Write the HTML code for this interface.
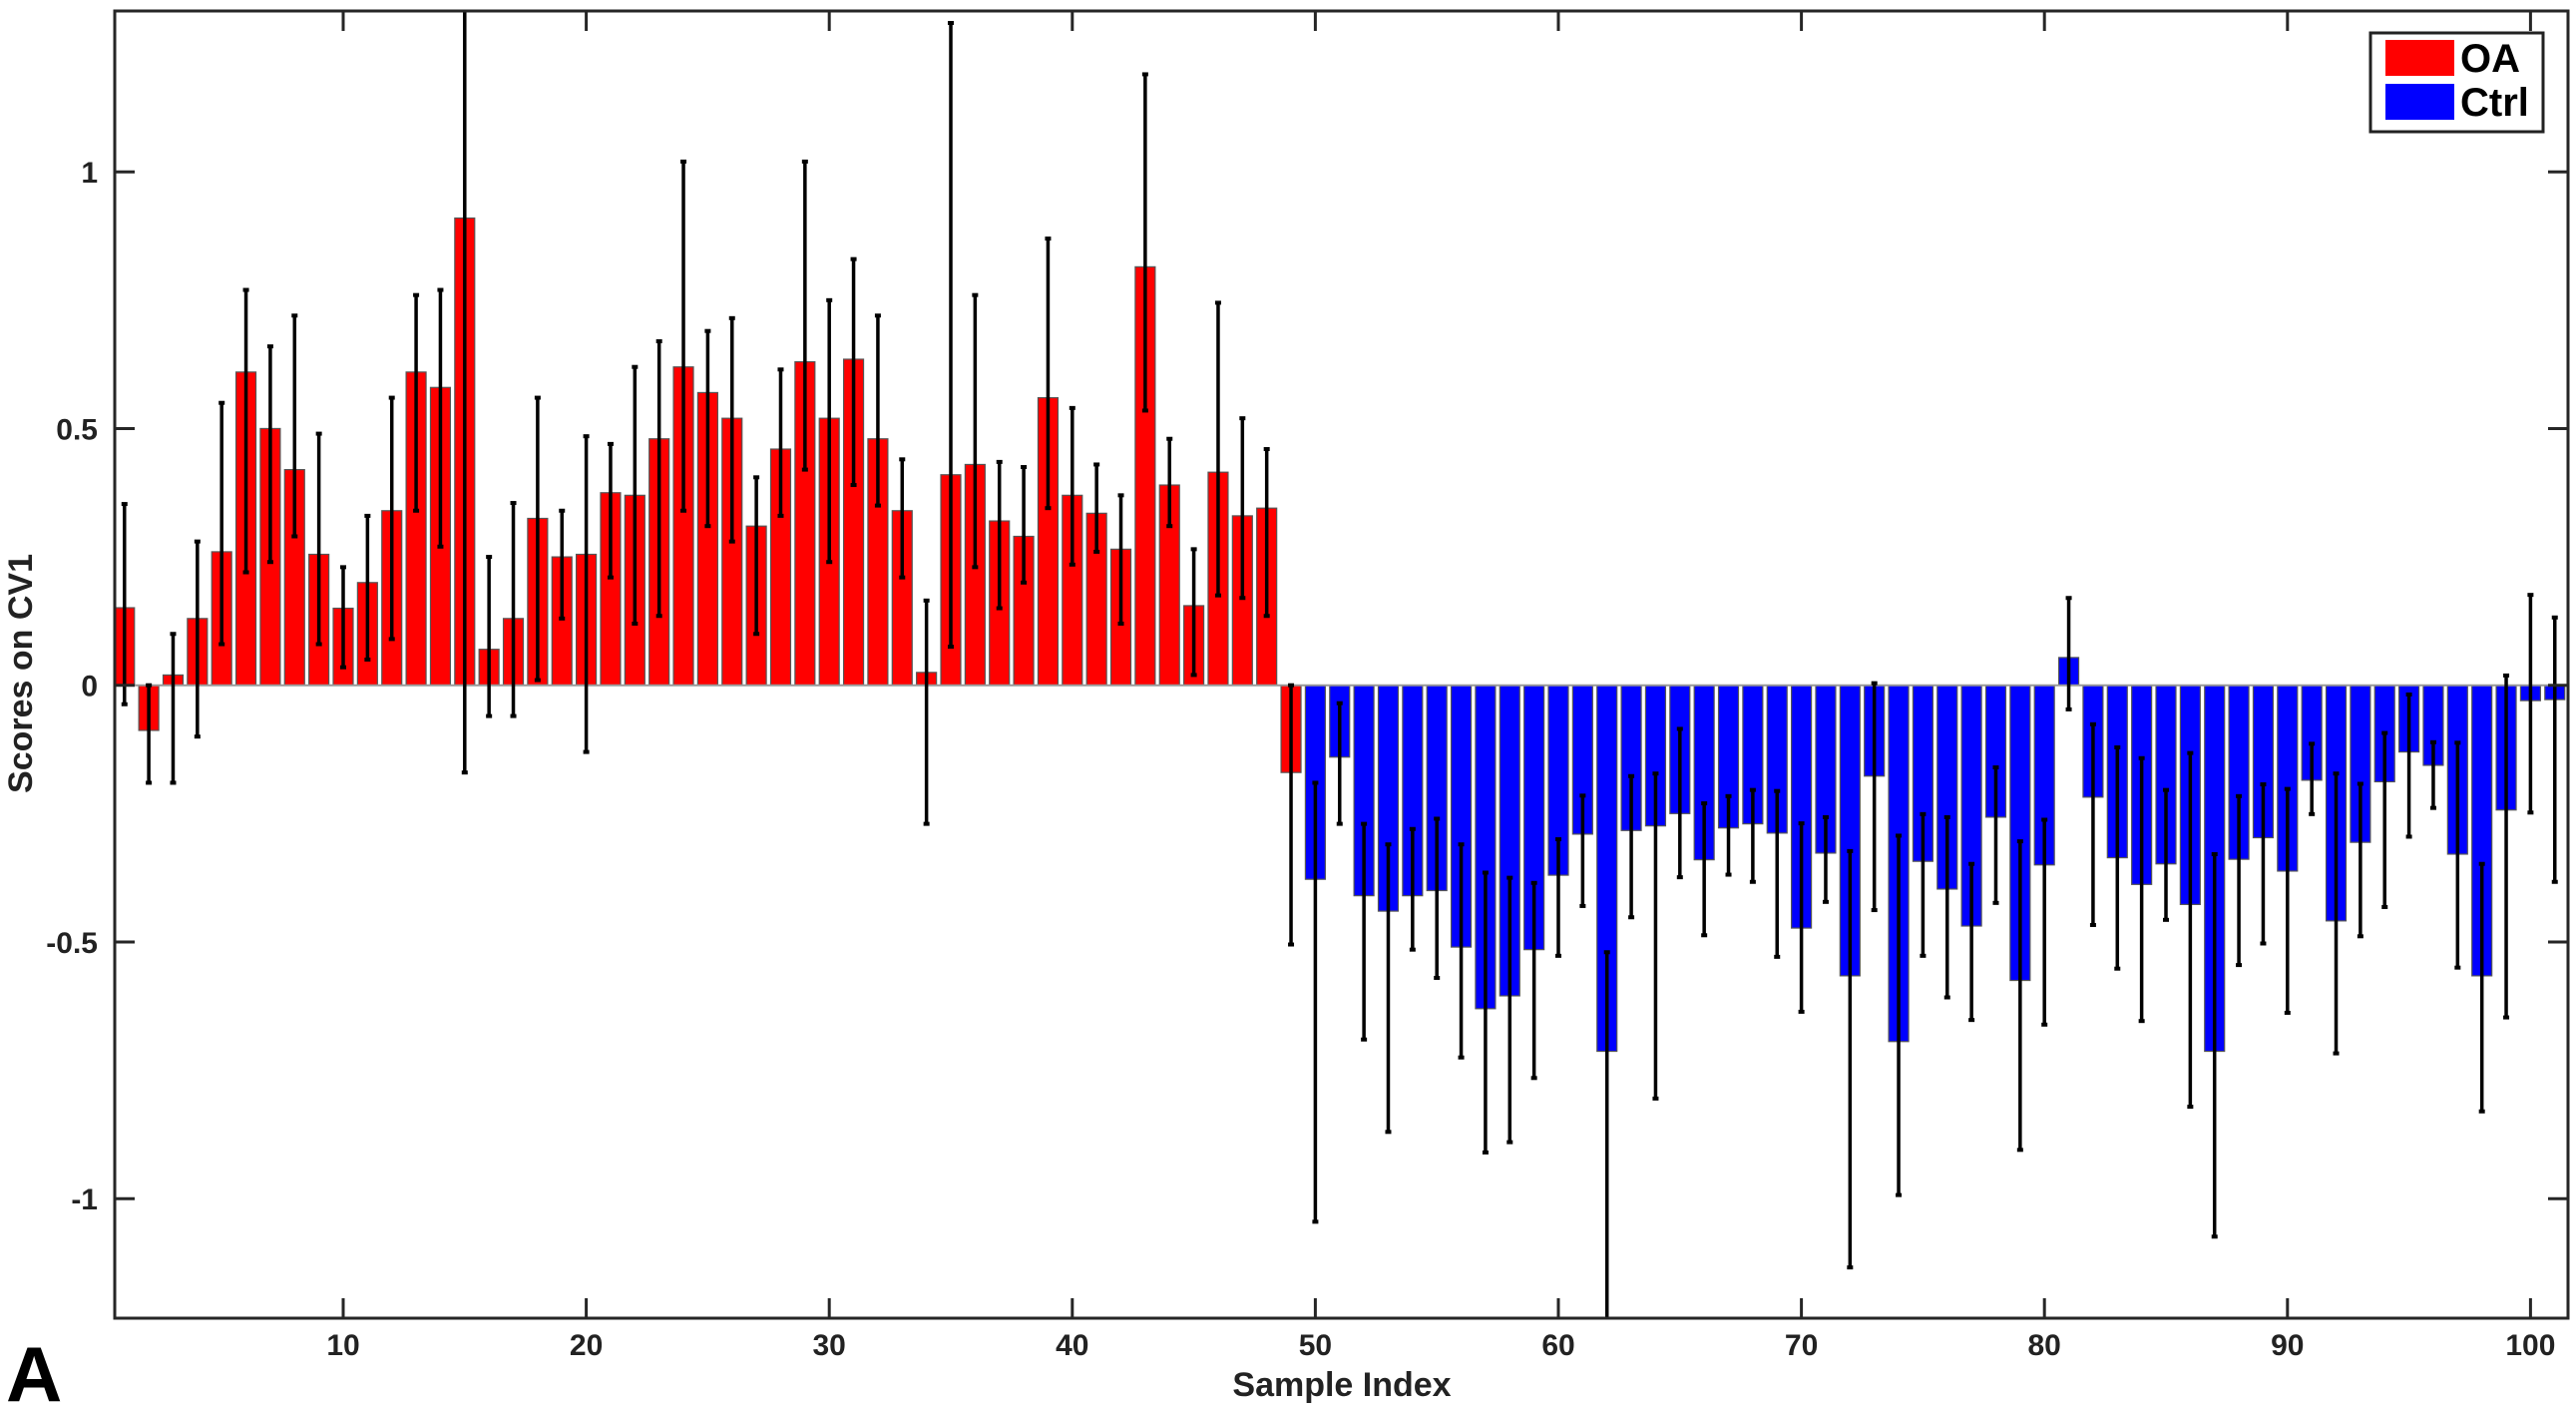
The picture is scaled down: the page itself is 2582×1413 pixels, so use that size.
<!DOCTYPE html>
<html><head><meta charset="utf-8"><style>
html,body{margin:0;padding:0;background:#fff;}
svg{display:block;}
text{font-family:"Liberation Sans",Arial,sans-serif;font-weight:bold;fill:#222;}
</style></head><body>
<svg id="chart" width="2582" height="1413" viewBox="0 0 2582 1413" xmlns="http://www.w3.org/2000/svg">
<defs><clipPath id="plotclip"><rect x="115" y="11" width="2459" height="1310"/></clipPath></defs>
<g id="bars" clip-path="url(#plotclip)"></g>
<g id="errs" clip-path="url(#plotclip)"></g>
<g id="axes"></g>
<text x="1345" y="1399" font-size="34" text-anchor="middle">Sample Index</text>
<text transform="translate(32,675) rotate(-90)" font-size="34" text-anchor="middle">Scores on CV1</text>
<text x="6" y="1404" font-size="78" font-family="Liberation Sans" font-weight="900" style="fill:#000">A</text>
<g>
<rect x="2376" y="33" width="173" height="99" fill="#fff" stroke="#222" stroke-width="3"/>
<rect x="2391" y="40" width="69" height="36" fill="#ff0000"/>
<text x="2466" y="72" font-size="40" style="fill:#000">OA</text>
<rect x="2391" y="84" width="69" height="36" fill="#0000ff"/>
<text x="2466" y="116" font-size="40" style="fill:#000">Ctrl</text>
</g>
</svg>
<script>
const oaValues=[0.151,-0.088,0.02,0.13,0.26,0.61,0.50,0.42,0.255,0.15,0.20,0.34,0.61,0.58,0.91,0.07,0.13,0.325,0.25,0.255,0.375,0.37,0.48,0.62,0.57,0.52,0.31,0.46,0.63,0.52,0.635,0.48,0.34,0.025,0.41,0.43,0.32,0.29,0.56,0.37,0.335,0.265,0.815,0.39,0.155,0.415,0.33,0.345,-0.17];
const oaHigh=[0.353,0,0.10,0.28,0.55,0.77,0.66,0.72,0.49,0.23,0.33,0.56,0.76,0.77,1.4,0.25,0.355,0.56,0.34,0.485,0.47,0.62,0.67,1.02,0.69,0.715,0.405,0.615,1.02,0.75,0.83,0.72,0.44,0.165,1.29,0.76,0.435,0.425,0.87,0.54,0.43,0.37,1.19,0.48,0.265,0.745,0.52,0.46,0];
const oaLow=[-0.037,-0.19,-0.19,-0.10,0.08,0.22,0.24,0.29,0.08,0.035,0.05,0.09,0.34,0.27,-0.17,-0.06,-0.06,0.01,0.13,-0.13,0.21,0.12,0.135,0.34,0.31,0.28,0.10,0.33,0.42,0.24,0.39,0.35,0.21,-0.27,0.075,0.23,0.15,0.20,0.345,0.235,0.26,0.12,0.535,0.31,0.02,0.175,0.17,0.135,-0.505];
const ctrlValues=[-0.378,-0.14,-0.41,-0.44,-0.41,-0.40,-0.51,-0.63,-0.605,-0.515,-0.37,-0.29,-0.713,-0.283,-0.274,-0.25,-0.34,-0.278,-0.27,-0.288,-0.473,-0.327,-0.566,-0.177,-0.694,-0.343,-0.397,-0.469,-0.257,-0.575,-0.35,0.054,-0.218,-0.336,-0.388,-0.348,-0.427,-0.713,-0.339,-0.297,-0.362,-0.185,-0.459,-0.306,-0.188,-0.13,-0.156,-0.329,-0.566,-0.243,-0.03,-0.028];
const ctrlHigh=[-0.19,-0.035,-0.27,-0.31,-0.28,-0.26,-0.31,-0.365,-0.375,-0.385,-0.30,-0.215,-0.52,-0.177,-0.172,-0.085,-0.23,-0.216,-0.204,-0.206,-0.269,-0.257,-0.323,0.004,-0.293,-0.251,-0.257,-0.348,-0.16,-0.304,-0.262,0.17,-0.076,-0.121,-0.142,-0.204,-0.132,-0.329,-0.216,-0.193,-0.202,-0.114,-0.172,-0.192,-0.093,-0.018,-0.111,-0.112,-0.348,0.019,0.176,0.132];
const ctrlLow=[-1.045,-0.27,-0.69,-0.87,-0.515,-0.57,-0.725,-0.91,-0.89,-0.765,-0.527,-0.43,-1.4,-0.452,-0.805,-0.374,-0.487,-0.369,-0.383,-0.529,-0.636,-0.422,-1.134,-0.438,-0.993,-0.527,-0.608,-0.652,-0.424,-0.905,-0.661,-0.047,-0.467,-0.552,-0.654,-0.457,-0.821,-1.074,-0.545,-0.503,-0.638,-0.251,-0.717,-0.489,-0.432,-0.295,-0.239,-0.55,-0.83,-0.647,-0.248,-0.383];
const xTicks=[10,20,30,40,50,60,70,80,90,100];
const yTicks=[-1,-0.5,0,0.5,1];
const yTickLabels=["-1","-0.5","0","0.5","1"];

const NS="http://www.w3.org/2000/svg";
const L=115,T=11,R=2574,B=1321;
function xs(v){return 344+(v-10)*24.36;}
function ys(v){return 686.7-v*514.5;}
function mk(tag,attrs,parent){const e=document.createElementNS(NS,tag);for(const k in attrs)e.setAttribute(k,attrs[k]);parent.appendChild(e);return e;}
const gb=document.getElementById('bars'),ge=document.getElementById('errs'),ga=document.getElementById('axes');
const all=[];
oaValues.forEach((v,i)=>all.push({g:'oa',v,h:oaHigh[i],l:oaLow[i]}));
ctrlValues.forEach((v,i)=>all.push({g:'ctrl',v,h:ctrlHigh[i],l:ctrlLow[i]}));
const bw=0.82*24.36;
all.forEach((d,i)=>{
  const n=i+1,cx=xs(n);
  const y0=ys(0),y1=ys(d.v);
  const r=mk('rect',{x:cx-bw/2,y:Math.min(y0,y1),width:bw,height:Math.abs(y1-y0),fill:d.g==='oa'?'#ff0000':'#0000ff',stroke:'#555','stroke-width':1.2},gb);
  
  
  const e=mk('line',{x1:cx,x2:cx,y1:ys(d.h),y2:ys(d.l),stroke:'#000','stroke-width':3.5},ge);
  
  
  [d.h,d.l].forEach(v=>{
    const c=mk('line',{x1:cx-3,x2:cx+3,y1:ys(v),y2:ys(v),stroke:'#000','stroke-width':4},ge);
    
    
  });
});
const zl=mk('line',{x1:L,x2:R,y1:ys(0),y2:ys(0),stroke:'#999','stroke-width':2},gb);


const fr=mk('rect',{x:L,y:T,width:R-L,height:B-T,fill:'none',stroke:'#262626','stroke-width':3},ga);


xTicks.forEach(t=>{
  const x=xs(t);
  mk('line',{x1:x,x2:x,y1:B,y2:B-20,stroke:'#262626','stroke-width':3},ga);
  mk('line',{x1:x,x2:x,y1:T,y2:T+20,stroke:'#262626','stroke-width':3},ga);
  const tx=mk('text',{x:x,y:B+37,'font-size':30,'text-anchor':'middle'},ga);
  tx.textContent=t;
  
  
});
yTicks.forEach((t,i)=>{
  const y=ys(t);
  mk('line',{x1:L,x2:L+20,y1:y,y2:y,stroke:'#262626','stroke-width':3},ga);
  mk('line',{x1:R,x2:R-20,y1:y,y2:y,stroke:'#262626','stroke-width':3},ga);
  const tx=mk('text',{x:98,y:y+11,'font-size':30,'text-anchor':'end'},ga);
  tx.textContent=yTickLabels[i];
  
  
});
</script>
</body></html>
